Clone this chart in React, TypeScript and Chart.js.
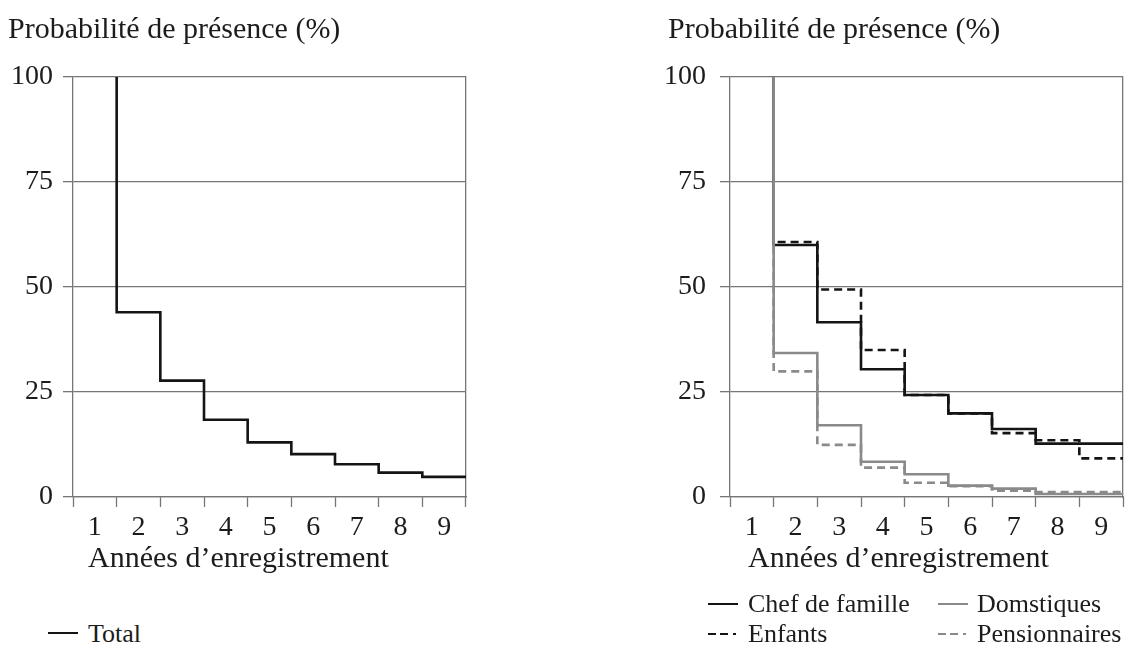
import React, { useEffect, useRef } from "react";
import { Chart, registerables } from "chart.js";

Chart.register(...registerables);

// ---------- data ----------
const YEARS = [1, 2, 3, 4, 5, 6, 7, 8, 9];
const Y_TICKS = [0, 25, 50, 75, 100];
const TOTAL = [100, 44, 27.7, 18.4, 13.0, 10.2, 7.8, 5.8, 4.8];
const CHEF = [100, 60, 41.6, 30.4, 24.3, 19.9, 16.2, 12.7, 12.7];
const ENFANTS = [100, 60.7, 49.4, 35.0, 24.3, 19.9, 15.2, 13.5, 9.2];
const DOMESTIQUES = [100, 34.3, 17.1, 8.4, 5.4, 2.7, 2.0, 0.7, 0.7];
const PENSIONNAIRES = [100, 29.9, 12.4, 7.0, 3.4, 2.6, 1.5, 1.2, 1.2];

const Y_TITLE = "Probabilité de présence (%)";
const X_TITLE = "Années d’enregistrement";

// ---------- style ----------
const FONT = '"Liberation Serif", "Times New Roman", Times, serif';
const TEXT = "#1c1c1c";
const GRID = "#767676";
const BLACK = "#141414";
const GRAY = "#8a8a8a";

type SeriesDef = {
  label: string;
  values: number[];
  color: string;
  dash: number[];
  order: number;
};

function buildConfig(
  series: SeriesDef[],
  yWidth: number,
  yPad: number,
  padding: { left: number; right: number; top: number; bottom: number },
  xHeight: number
): any {
  return {
    type: "line",
    data: {
      datasets: series.map((s) => ({
        label: s.label,
        data: YEARS.map((yr, i) => ({ x: yr + 0.5, y: s.values[i] })),
        stepped: "after",
        borderColor: s.color,
        borderWidth: 2.6,
        borderDash: s.dash,
        pointRadius: 0,
        fill: false,
        order: s.order,
      })),
    },
    options: {
      responsive: false,
      animation: false,
      layout: { padding },
      plugins: { legend: { display: false }, tooltip: { enabled: false } },
      scales: {
        x: {
          type: "linear",
          min: 0.5,
          max: 9.5,
          afterBuildTicks: (axis: any) => {
            axis.ticks = YEARS.map((v) => ({ value: v }));
          },
          afterFit: (axis: any) => {
            axis.height = xHeight;
          },
          grid: {
            offset: true,
            drawOnChartArea: false,
            drawTicks: true,
            tickLength: 10,
            tickColor: GRID,
            tickWidth: 1.3,
            color: GRID,
          },
          border: { display: true, color: GRID, width: 1.3 },
          ticks: {
            autoSkip: false,
            maxRotation: 0,
            padding: 4,
            color: TEXT,
            font: { family: FONT, size: 28 },
          },
        },
        y: {
          type: "linear",
          min: 0,
          max: 100,
          afterBuildTicks: (axis: any) => {
            axis.ticks = Y_TICKS.map((v) => ({ value: v }));
          },
          afterFit: (axis: any) => {
            axis.width = yWidth;
          },
          grid: {
            color: GRID,
            lineWidth: 1.3,
            drawTicks: true,
            tickLength: 10,
          },
          border: { display: true, color: GRID, width: 1.3 },
          ticks: {
            padding: yPad,
            color: TEXT,
            font: { family: FONT, size: 28 },
          },
        },
        yRight: {
          type: "linear",
          position: "right",
          min: 0,
          max: 100,
          grid: { display: false },
          ticks: { display: false },
          border: { display: true, color: GRID, width: 1.3 },
          afterFit: (axis: any) => {
            axis.width = 0;
          },
        },
      },
    },
  };
}

function StepChart(props: {
  left: number;
  width: number;
  height: number;
  series: SeriesDef[];
  yWidth: number;
  yPad: number;
  padding: { left: number; right: number; top: number; bottom: number };
  xHeight: number;
}) {
  const ref = useRef<HTMLCanvasElement | null>(null);
  useEffect(() => {
    if (!ref.current) return;
    const chart = new Chart(
      ref.current,
      buildConfig(props.series, props.yWidth, props.yPad, props.padding, props.xHeight)
    );
    return () => chart.destroy();
  }, []);
  return (
    <canvas
      ref={ref}
      width={props.width}
      height={props.height}
      style={{ position: "absolute", left: props.left, top: 0, width: props.width, height: props.height }}
    />
  );
}

function Label(props: { x: number; y: number; size: number; text: string }) {
  return (
    <div
      style={{
        position: "absolute",
        left: props.x,
        top: props.y,
        fontFamily: FONT,
        fontSize: props.size,
        lineHeight: props.size + "px",
        color: TEXT,
        whiteSpace: "nowrap",
      }}
    >
      {props.text}
    </div>
  );
}

function Mark(props: { x: number; y: number; color: string; dashed: boolean }) {
  return (
    <svg
      width={32}
      height={6}
      style={{ position: "absolute", left: props.x, top: props.y - 3 }}
    >
      {props.dashed ? (
        <>
          <line x1={0} y1={3} x2={8} y2={3} stroke={props.color} strokeWidth={2} />
          <line x1={12} y1={3} x2={20} y2={3} stroke={props.color} strokeWidth={2} />
          <line x1={25} y1={3} x2={28} y2={3} stroke={props.color} strokeWidth={2} />
        </>
      ) : (
        <line x1={0} y1={3} x2={30} y2={3} stroke={props.color} strokeWidth={2} />
      )}
    </svg>
  );
}

export default function App() {
  const leftSeries: SeriesDef[] = [
    { label: "Total", values: TOTAL, color: BLACK, dash: [], order: 0 },
  ];
  const rightSeries: SeriesDef[] = [
    { label: "Chef de famille", values: CHEF, color: BLACK, dash: [], order: 3 },
    { label: "Enfants", values: ENFANTS, color: BLACK, dash: [8, 5], order: 2 },
    { label: "Domstiques", values: DOMESTIQUES, color: GRAY, dash: [], order: 0 },
    { label: "Pensionnaires", values: PENSIONNAIRES, color: GRAY, dash: [8, 5], order: 1 },
  ];
  return (
    <div style={{ position: "absolute", left: 0, top: 0, width: 1127, height: 665, background: "#fff" }}>
      <StepChart
        left={0}
        width={560}
        height={560}
        series={leftSeries}
        yWidth={73}
        yPad={10}
        padding={{ left: 0, right: 94, top: 77, bottom: 0 }}
        xHeight={63}
      />
      <StepChart
        left={560}
        width={567}
        height={560}
        series={rightSeries}
        yWidth={70}
        yPad={14}
        padding={{ left: 100, right: 4, top: 77, bottom: 0 }}
        xHeight={63}
      />
      <Label x={8} y={13} size={30} text={Y_TITLE} />
      <Label x={668} y={13} size={30} text={Y_TITLE} />
      <Label x={88} y={542} size={30} text={X_TITLE} />
      <Label x={748} y={542} size={30} text={X_TITLE} />

      <Mark x={48} y={633} color={BLACK} dashed={false} />
      <Label x={88} y={621} size={26} text="Total" />

      <Mark x={708} y={604} color={BLACK} dashed={false} />
      <Label x={748} y={591} size={26} text="Chef de famille" />
      <Mark x={938} y={604} color={GRAY} dashed={false} />
      <Label x={977} y={591} size={26} text="Domstiques" />
      <Mark x={708} y={634} color={BLACK} dashed={true} />
      <Label x={748} y={621} size={26} text="Enfants" />
      <Mark x={938} y={634} color={GRAY} dashed={true} />
      <Label x={977} y={621} size={26} text="Pensionnaires" />
    </div>
  );
}
